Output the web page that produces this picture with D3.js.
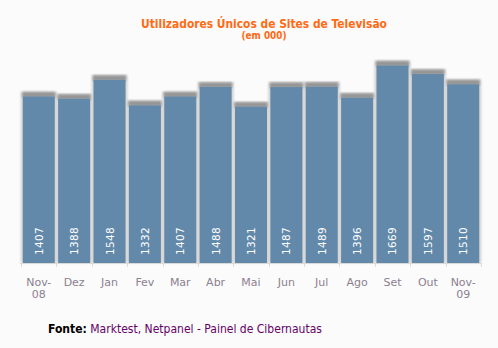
<!DOCTYPE html>
<html><head><meta charset="utf-8">
<script src="https://cdn.jsdelivr.net/npm/d3@7"></script>
<style>
html,body{margin:0;padding:0;background:#fbfbfb;}
svg{display:block;}
text{font-family:"DejaVu Sans",Verdana,sans-serif;}
.cond{font-family:"DejaVu Sans Condensed","DejaVu Sans",sans-serif;font-stretch:condensed;}
</style></head>
<body><svg id="c" width="498" height="348"></svg>
<script>
const months = ["Nov-08","Dez","Jan","Fev","Mar","Abr","Mai","Jun","Jul","Ago","Set","Out","Nov-09"];
const values = [1407,1388,1548,1332,1407,1488,1321,1487,1489,1396,1669,1597,1510];
const title = "Utilizadores Únicos de Sites de Televisão";
const subtitle = "(em 000)";
const sourceLabel = "Fonte:";
const sourceText = " Marktest, Netpanel - Painel de Cibernautas";

const svg = d3.select("#c");
svg.append("rect").attr("width",498).attr("height",348).attr("fill","#fbfbfb");
const defs = svg.append("defs");
defs.append("filter").attr("id","blur").attr("x","-20%").attr("y","-20%").attr("width","140%").attr("height","140%")
  .append("feGaussianBlur").attr("stdDeviation",0.9);

const x = d3.scaleBand().domain(months).range([21,481]).paddingInner(0.095).paddingOuter(0.05);
const y = d3.scaleLinear().domain([0,1800]).range([263,50]);

function fitText(sel, target){
  const n = sel.node(); const fs = parseFloat(sel.attr("font-size"));
  const w = n.getComputedTextLength();
  sel.attr("font-size", (fs*target/w).toFixed(2));
}

// title
const t1 = svg.append("text").attr("class","cond").attr("x",264).attr("y",28).attr("text-anchor","middle")
  .attr("font-size",11).attr("font-weight","bold").attr("fill","#ff6a13").text(title);
fitText(t1,246);
const t2 = svg.append("text").attr("class","cond").attr("x",264).attr("y",39).attr("text-anchor","middle")
  .attr("font-size",10).attr("font-weight","bold").attr("fill","#ff6a13").text(subtitle);
fitText(t2,45);

// axis line & ticks
const g = svg.append("g");
g.append("line").attr("x1",20).attr("x2",482).attr("y1",263.5).attr("y2",263.5).attr("stroke","#dcdcdc");
const bounds = months.map(m=>x(m)-x.step()*x.paddingInner()/2).concat([x(months[months.length-1])+x.bandwidth()+x.step()*x.paddingInner()/2]);
g.selectAll(".tk").data(bounds).join("line").attr("x1",d=>Math.round(d)+0.5).attr("x2",d=>Math.round(d)+0.5)
  .attr("y1",263).attr("y2",267).attr("stroke","#dcdcdc");

// bar shadows
const bars = svg.append("g");
const data = months.map((m,i)=>({m, v:values[i]}));
bars.selectAll(".halo").data(data).join("rect")
  .attr("x",d=>x(d.m)-2).attr("y",d=>y(d.v)-5).attr("width",x.bandwidth()+4).attr("height",d=>263-y(d.v)+5)
  .attr("fill","#d2d2d2").attr("filter","url(#blur)");
bars.selectAll(".top").data(data).join("rect")
  .attr("x",d=>x(d.m)-0.5).attr("y",d=>y(d.v)-4.5).attr("width",x.bandwidth()+1).attr("height",5.5)
  .attr("fill","#959595").attr("filter","url(#blur)");
bars.selectAll(".bar").data(data).join("rect")
  .attr("x",d=>x(d.m)).attr("y",d=>y(d.v)).attr("width",x.bandwidth()).attr("height",d=>263-y(d.v))
  .attr("fill","#6389aa");

// value labels
bars.selectAll(".val").data(data).join("text")
  .attr("transform",d=>`translate(${x(d.m)+x.bandwidth()/2+4},255) rotate(-90)`)
  .attr("font-size",10.5).attr("fill","#ffffff").attr("letter-spacing",0.3).text(d=>d.v);

// x labels
const xl = svg.append("g");
data.forEach(d=>{
  const parts = d.m.includes("-") ? [d.m.split("-")[0]+"-", d.m.split("-")[1]] : [d.m];
  const tx = xl.append("text").attr("x",x(d.m)+x.bandwidth()/2).attr("y",286).attr("text-anchor","middle")
    .attr("font-size",11).attr("fill","#8c7f90");
  parts.forEach((p,i)=>tx.append("tspan").attr("x",x(d.m)+x.bandwidth()/2).attr("dy",i===0?0:12).text(p));
});

// footer
const ft = svg.append("text").attr("class","cond").attr("x",48).attr("y",333).attr("font-size",11);
ft.append("tspan").attr("font-weight","bold").attr("fill","#000").text(sourceLabel);
ft.append("tspan").attr("fill","#660066").text(sourceText);
fitText(ft,274);
</script></body></html>
